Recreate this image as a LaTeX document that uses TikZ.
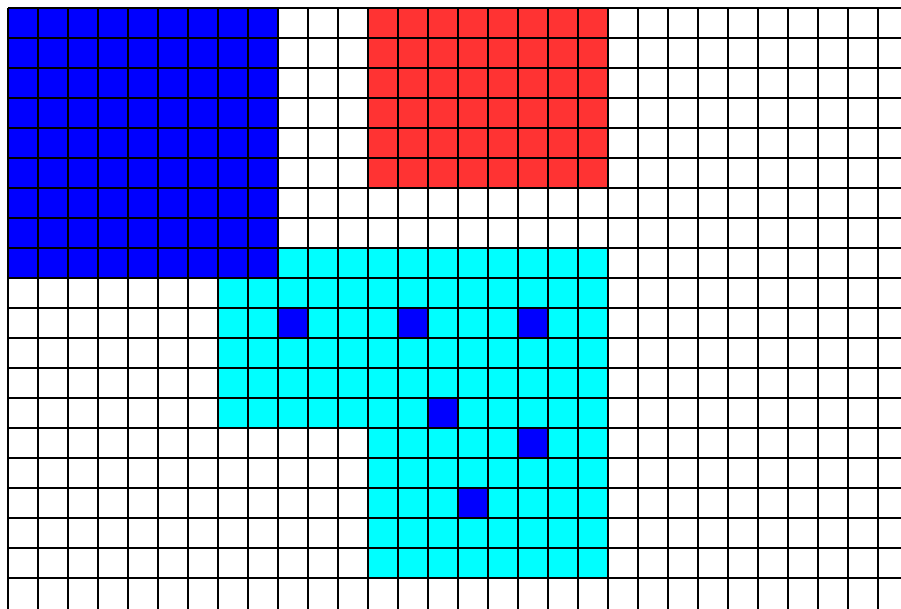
\documentclass[tikz,border=0pt]{standalone}
\definecolor{bigblue}{RGB}{0,0,255}
\definecolor{redfill}{RGB}{255,51,51}
\definecolor{cyanfill}{RGB}{0,255,255}
\tikzset{gridline/.style={line width=2pt, black}}
\begin{document}
\begin{tikzpicture}[x=1pt,y=-1pt]
\useasboundingbox (0,0) rectangle (901,608);
\clip (0,0) rectangle (901,608);
\fill[white] (0,0) rectangle (901,608);
% cyan region
\fill[cyanfill] (218,248) -- (608,248) -- (608,578) -- (368,578) -- (368,428) -- (218,428) -- cycle;
% big blue
\fill[bigblue] (8,8) rectangle (278,278);
% red
\fill[redfill] (368,8) rectangle (608,188);
% small blue cells
\foreach \x/\y in {278/308, 398/308, 518/308, 428/398, 518/428, 458/488}
  \fill[bigblue] (\x,\y) rectangle ++(30,30);
% grid
\foreach \i in {0,...,30}
  \draw[gridline] ({8+30*\i},8) -- ({8+30*\i},620);
\foreach \j in {0,...,19}
  \draw[gridline] (8,{8+30*\j}) -- (920,{8+30*\j});
\end{tikzpicture}
\end{document}
